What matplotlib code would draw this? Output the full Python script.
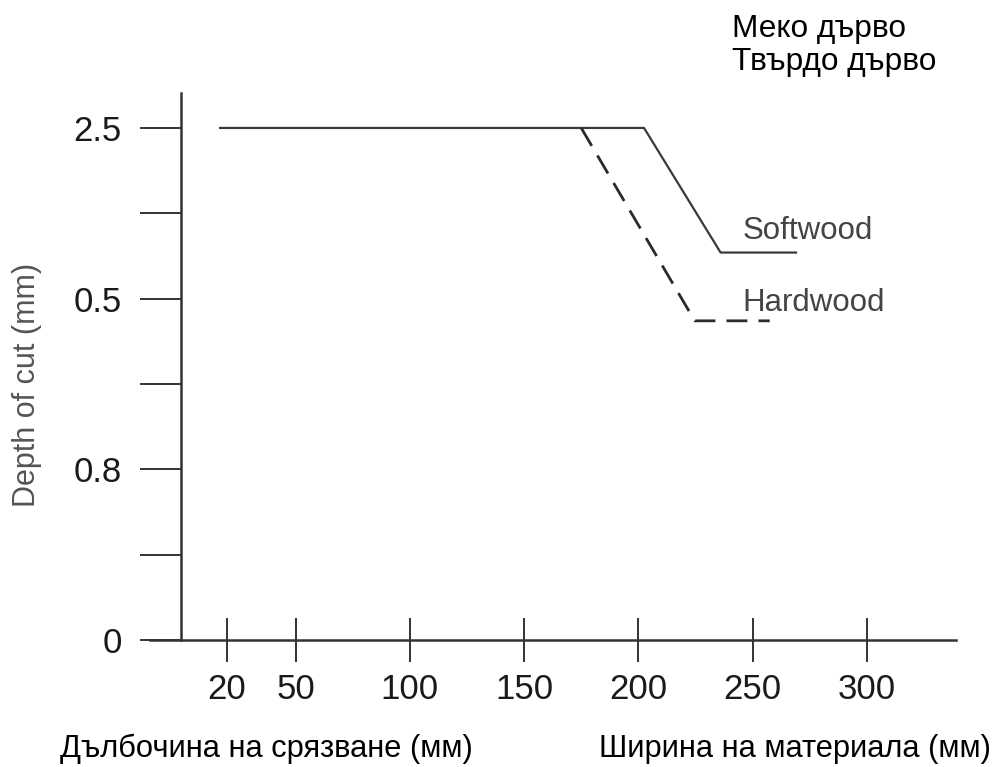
import matplotlib.pyplot as plt

plt.rcParams['font.family'] = ['Liberation Sans', 'DejaVu Sans']

# x positions in mm (material width), y in tick-slot units of the depth axis
width_ticks = [20, 50, 100, 150, 200, 250, 300]
depth_slots = [0, 1, 2, 3, 4, 5, 6]
depth_labels = ['0', '', '0.8', '', '0.5', '', '2.5']

soft_x = [17, 202.5, 236, 269]
soft_y = [6, 6, 4.54, 4.54]
hard_x = [175, 224.7, 257.5]
hard_y = [6, 3.74, 3.74]

ink = '#333333'

fig = plt.figure(figsize=(9.96, 7.67), dpi=100)
ax = fig.add_axes([0.1506, 0.1656, 0.8092, 0.7132])

ax.plot(soft_x, soft_y, color='#3a3a3a', lw=1.6)
ax.plot(hard_x, hard_y, color='#2a2a2a', lw=2.0, dashes=(7.5, 4))

ax.text(245.7, 4.70, 'Softwood', fontsize=22.5, color='#444444', va='baseline')
ax.text(245.7, 3.86, 'Hardwood', fontsize=22.5, color='#444444', va='baseline')

ax.set_xlim(-13.7, 339)
ax.set_ylim(0, 6.41)

for side in ['top', 'right']:
    ax.spines[side].set_visible(False)
ax.spines['left'].set_position(('data', 0))
for side in ['left', 'bottom']:
    ax.spines[side].set_color(ink)
    ax.spines[side].set_linewidth(1.8)

ax.set_yticks(depth_slots)
ax.set_yticklabels(depth_labels)
ax.set_xticks(width_ticks)
ax.set_xticklabels([str(v) for v in width_ticks])
ax.tick_params(axis='y', direction='out', length=29.5, width=1.4, color=ink,
               pad=13.5, labelsize=25, labelcolor='#1a1a1a')
ax.tick_params(axis='x', direction='inout', length=32, width=1.4, color=ink,
               pad=8, labelsize=25, labelcolor='#1a1a1a')

fig.text(27 / 996, 0.498, 'Depth of cut (mm)', rotation=90, ha='center',
         va='center', fontsize=22, color='#555555')

fig.text(0.7349, 0.9518, 'Меко дърво', fontsize=22.8, color='black')
fig.text(0.7349, 0.9087, 'Твърдо дърво', fontsize=22.8, color='black')
fig.text(0.0602, 0.0130, 'Дълбочина на срязване (мм)', fontsize=22.2, color='black')
fig.text(0.6014, 0.0130, 'Ширина на материала (мм)', fontsize=22.2, color='black')

fig.savefig('out.png', dpi=100, facecolor='white')
